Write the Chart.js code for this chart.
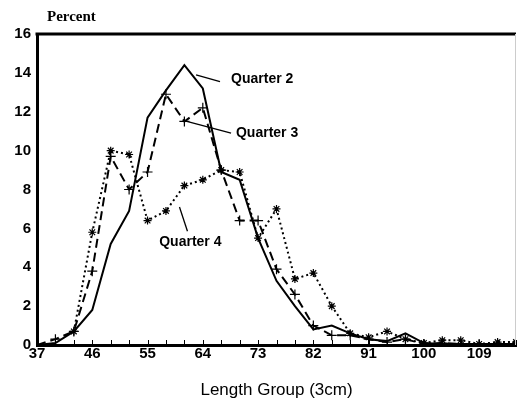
<!DOCTYPE html>
<html>
<head>
<meta charset="utf-8">
<script src="https://cdn.jsdelivr.net/npm/chart.js@4/dist/chart.umd.min.js"></script>
<style>
  html, body { margin: 0; padding: 0; background: #fff; }
  #wrap { width: 517px; height: 398px; }
</style>
</head>
<body>
<div id="wrap"><canvas id="c" width="517" height="398"></canvas></div>
<script>
// Length groups (3 cm classes) and percentage of catch per quarter
const lengthGroups = [37, 40, 43, 46, 49, 52, 55, 58, 61, 64, 67, 70, 73, 76, 79, 82, 85, 88, 91, 94, 97, 100, 103, 106, 109, 112, 115];
const quarter2 = [0, 0.1, 0.7, 1.8, 5.2, 6.9, 11.7, 13.1, 14.4, 13.2, 8.9, 8.5, 5.5, 3.3, 2.0, 0.8, 1.0, 0.6, 0.3, 0.2, 0.6, 0.1, 0.05, 0.05, 0.05, 0.05, 0.05];
const quarter3 = [0, 0.3, 0.7, 3.8, 9.7, 8.0, 8.9, 12.9, 11.5, 12.2, 9.0, 6.4, 6.4, 3.9, 2.6, 1.0, 0.5, 0.5, 0.3, 0.15, 0.3, 0.05, 0.1, 0.05, 0.05, 0.05, 0];
const quarter4 = [null, null, 0.7, 5.8, 10.0, 9.8, 6.4, 6.9, 8.2, 8.5, 9.0, 8.9, 5.5, 7.0, 3.4, 3.7, 2.0, 0.6, 0.4, 0.7, 0.3, 0.1, 0.25, 0.25, 0.05, 0.15, 0.15];
const seriesNames = ['Quarter 2', 'Quarter 3', 'Quarter 4'];
const xTickLabels = [37, 46, 55, 64, 73, 82, 91, 100, 109];
const yTickLabels = [0, 2, 4, 6, 8, 10, 12, 14, 16];

const pts = vals => lengthGroups.map((x, i) => ({ x, y: vals[i] }));

// Callout labels with leader lines, in data units
const callouts = [
  { name: seriesNames[0], from: [62.9, 13.9], to: [66.8, 13.55], at: [68.6, 13.68] },
  { name: seriesNames[1], from: [61.4, 11.5], to: [68.6, 10.9], at: [69.4, 10.9] },
  { name: seriesNames[2], from: [60.2, 7.1], to: [61.5, 5.85], at: [56.9, 5.31] }
];

const decor = {
  id: 'decor',
  afterDraw(chart) {
    const { ctx, chartArea: a, scales: { x, y } } = chart;
    ctx.save();
    // frame: heavy top edge, faint right edge
    ctx.strokeStyle = '#000';
    ctx.lineWidth = 3;
    ctx.beginPath();
    ctx.moveTo(a.left - 1.5, a.top);
    ctx.lineTo(a.right, a.top);
    ctx.stroke();
    ctx.strokeStyle = '#ccc';
    ctx.lineWidth = 1;
    ctx.beginPath();
    ctx.moveTo(a.right - 0.5, a.top);
    ctx.lineTo(a.right - 0.5, a.bottom);
    ctx.stroke();
    // small inner ticks at every length group
    ctx.strokeStyle = '#000';
    ctx.lineWidth = 1;
    lengthGroups.forEach(v => {
      const px = Math.round(x.getPixelForValue(v)) + 0.5;
      ctx.beginPath();
      ctx.moveTo(px, a.bottom - 5);
      ctx.lineTo(px, a.bottom);
      ctx.stroke();
    });
    // y-axis caption
    ctx.fillStyle = '#000';
    ctx.font = 'bold 15px "Liberation Serif", "DejaVu Serif", serif';
    ctx.textAlign = 'left';
    ctx.textBaseline = 'alphabetic';
    ctx.fillText('Percent', 47, 21);
    // series callouts
    ctx.font = 'bold 14px "Liberation Sans", Arial, sans-serif';
    ctx.textBaseline = 'middle';
    ctx.lineWidth = 1.3;
    callouts.forEach(c => {
      ctx.beginPath();
      ctx.moveTo(x.getPixelForValue(c.from[0]), y.getPixelForValue(c.from[1]));
      ctx.lineTo(x.getPixelForValue(c.to[0]), y.getPixelForValue(c.to[1]));
      ctx.stroke();
      ctx.fillText(c.name, x.getPixelForValue(c.at[0]), y.getPixelForValue(c.at[1]));
    });
    ctx.restore();
  }
};

const tickFont = { family: '"Liberation Sans", Arial, sans-serif', size: 15, weight: 'bold' };

new Chart(document.getElementById('c'), {
  type: 'line',
  data: {
    datasets: [
      {
        label: seriesNames[0], data: pts(quarter2),
        borderColor: '#000', borderWidth: 2, pointRadius: 0, tension: 0
      },
      {
        label: seriesNames[1], data: pts(quarter3),
        borderColor: '#000', borderWidth: 2, borderDash: [9, 5], tension: 0,
        pointStyle: 'cross', pointRadius: 5, pointBorderWidth: 1.2, pointBorderColor: '#000'
      },
      {
        label: seriesNames[2], data: pts(quarter4),
        borderColor: '#000', borderWidth: 2, borderDash: [2, 3], tension: 0, spanGaps: false,
        pointStyle: 'star', pointRadius: 4, pointBorderWidth: 1.2, pointBorderColor: '#000'
      }
    ]
  },
  options: {
    responsive: false,
    animation: false,
    devicePixelRatio: 1,
    layout: { autoPadding: false, padding: { top: 34, right: 1, left: 0, bottom: 0 } },
    plugins: { legend: { display: false }, tooltip: { enabled: false }, title: { display: false } },
    scales: {
      x: {
        type: 'linear',
        min: 37,
        max: 115,
        afterBuildTicks: s => { s.ticks = xTickLabels.map(v => ({ value: v })); },
        afterFit: s => { s.height = 53; },
        ticks: { color: '#000', font: tickFont, padding: 0, maxRotation: 0, autoSkip: false },
        grid: { drawOnChartArea: false, drawTicks: false },
        border: { display: true, color: '#000', width: 3 },
        title: {
          display: true, text: 'Length Group (3cm)', color: '#000',
          font: { family: '"Liberation Sans", Arial, sans-serif', size: 17 },
          padding: { top: 0, bottom: -3 }
        }
      },
      y: {
        min: 0,
        max: 16,
        afterBuildTicks: s => { s.ticks = yTickLabels.map(v => ({ value: v })); },
        afterFit: s => { s.width = 37; },
        ticks: { color: '#000', font: tickFont, padding: 6 },
        grid: { drawOnChartArea: false, drawTicks: false },
        border: { display: true, color: '#000', width: 3 }
      }
    }
  },
  plugins: [decor]
});
</script>
</body>
</html>
